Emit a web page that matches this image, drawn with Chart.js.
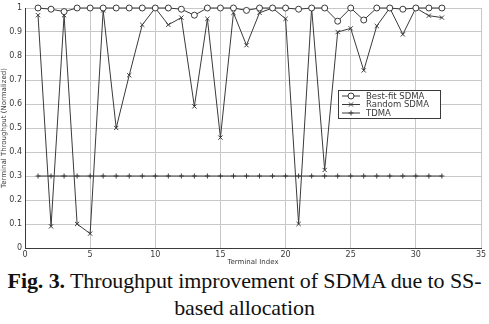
<!DOCTYPE html>
<html>
<head>
<meta charset="utf-8">
<script src="https://cdn.jsdelivr.net/npm/chart.js@4.4.0/dist/chart.umd.min.js"></script>
<style>
  body { margin: 0; background: #fff; width: 489px; height: 324px; overflow: hidden; }
  #wrap { position: relative; width: 489px; height: 266px; }
  .caption {
    font-family: "Liberation Serif", "Times New Roman", serif;
    font-size: 22px; line-height: 27px; text-align: center; color: #111;
    margin-top: 1px; letter-spacing: -0.1px;
  }
</style>
</head>
<body>
<div id="wrap"><canvas id="chart" width="489" height="266"></canvas></div>
<div class="caption"><b>Fig. 3.</b> Throughput improvement of SDMA due to SS-<br>based allocation</div>
<script>
// terminal index 1..32
const terminals = [1,2,3,4,5,6,7,8,9,10,11,12,13,14,15,16,17,18,19,20,21,22,23,24,25,26,27,28,29,30,31,32];

const bestFit = [1.0,0.995,0.985,1.0,1.0,1.0,1.0,1.0,1.0,1.0,1.0,0.995,0.97,1.0,1.0,1.0,
                 0.99,1.0,1.0,1.0,0.995,1.0,1.0,0.945,1.0,0.95,1.0,1.0,0.995,1.0,1.0,1.0];

const randomSdma = [0.97,0.09,0.97,0.10,0.06,0.99,0.50,0.72,0.93,1.0,0.93,0.96,0.59,0.955,0.46,0.98,
                    0.845,0.98,1.0,0.955,0.10,1.0,0.325,0.90,0.915,0.74,0.925,1.0,0.89,1.0,0.968,0.96];

const tdma = [0.3,0.3,0.3,0.3,0.3,0.3,0.3,0.3,0.3,0.3,0.3,0.3,0.3,0.3,0.3,0.3,
              0.3,0.3,0.3,0.3,0.3,0.3,0.3,0.3,0.3,0.3,0.3,0.3,0.3,0.3,0.3,0.3];

const xTicks = [0,5,10,15,20,25,30,35];
const yTicks = [0,0.1,0.2,0.3,0.4,0.5,0.6,0.7,0.8,0.9,1];

const toPoints = vals => vals.map((v, i) => ({ x: terminals[i], y: v }));
const ink = '#3a3a3a';

// matlab-like legend box drawn inside the plot
const legendBox = {
  id: 'legendBox',
  afterDatasetsDraw(chart) {
    const c = chart.ctx;
    const x0 = 338, y0 = 90, w = 102, h = 28;
    c.save();
    c.fillStyle = '#fff';
    c.fillRect(x0, y0, w, h);
    c.strokeStyle = ink;
    c.lineWidth = 1;
    c.strokeRect(x0 + 0.5, y0 + 0.5, w, h);
    c.font = '8.5px "DejaVu Sans", sans-serif';
    c.textBaseline = 'middle';
    chart.data.datasets.forEach((ds, i) => {
      const y = y0 + 6 + i * 8.5;
      c.strokeStyle = ink;
      c.fillStyle = '#fff';
      c.beginPath();
      c.moveTo(x0 + 4, y);
      c.lineTo(x0 + 22, y);
      c.stroke();
      Chart.helpers.drawPoint(c, {
        pointStyle: ds.pointStyle, radius: Math.min(ds.pointRadius, 3), borderWidth: 1
      }, x0 + 13, y);
      c.fillStyle = ink;
      c.fillText(ds.label, x0 + 28, y + 0.5);
    });
    c.restore();
  }
};

new Chart(document.getElementById('chart'), {
  type: 'scatter',
  data: {
    datasets: [
      { label: 'Best-fit SDMA', data: toPoints(bestFit), showLine: true, clip: false,
        borderColor: ink, backgroundColor: '#fff', borderWidth: 1,
        pointStyle: 'circle', pointRadius: 3, pointBorderWidth: 1 },
      { label: 'Random SDMA', data: toPoints(randomSdma), showLine: true, clip: false,
        borderColor: ink, backgroundColor: ink, borderWidth: 1,
        pointStyle: 'crossRot', pointRadius: 3, pointBorderWidth: 1 },
      { label: 'TDMA', data: toPoints(tdma), showLine: true, clip: false,
        borderColor: ink, backgroundColor: ink, borderWidth: 1,
        pointStyle: 'cross', pointRadius: 2.5, pointBorderWidth: 1 }
    ]
  },
  options: {
    responsive: false,
    animation: false,
    layout: { padding: { top: 8, right: 8, left: 0, bottom: 0 } },
    plugins: { legend: { display: false }, tooltip: { enabled: false } },
    scales: {
      x: {
        type: 'linear', min: 0, max: 35,
        afterBuildTicks: s => { s.ticks = xTicks.map(v => ({ value: v })); },
        afterFit: s => { s.height = 18; },
        grid: { color: '#c8c8c8', borderDash: [1, 2], drawTicks: false },
        border: { color: ink, width: 1 },
        ticks: { padding: 2, color: ink, font: { size: 8, family: 'DejaVu Sans' }, maxRotation: 0 },
        title: { display: true, text: 'Terminal Index', color: ink, padding: 0,
                 font: { size: 7, family: 'DejaVu Sans' } }
      },
      y: {
        min: 0, max: 1,
        afterBuildTicks: s => { s.ticks = yTicks.map(v => ({ value: v })); },
        afterFit: s => { s.width = 25; },
        grid: { color: '#c8c8c8', borderDash: [1, 2], drawTicks: false },
        border: { color: ink, width: 1 },
        ticks: { padding: 3, color: ink, font: { size: 8, family: 'DejaVu Sans' },
                 callback: v => String(Math.round(v * 10) / 10) },
        title: { display: true, text: 'Terminal Throughput (Normalized)', color: ink, padding: 0,
                 font: { size: 7, family: 'DejaVu Sans' } }
      }
    }
  },
  plugins: [legendBox]
});
</script>
</body>
</html>
